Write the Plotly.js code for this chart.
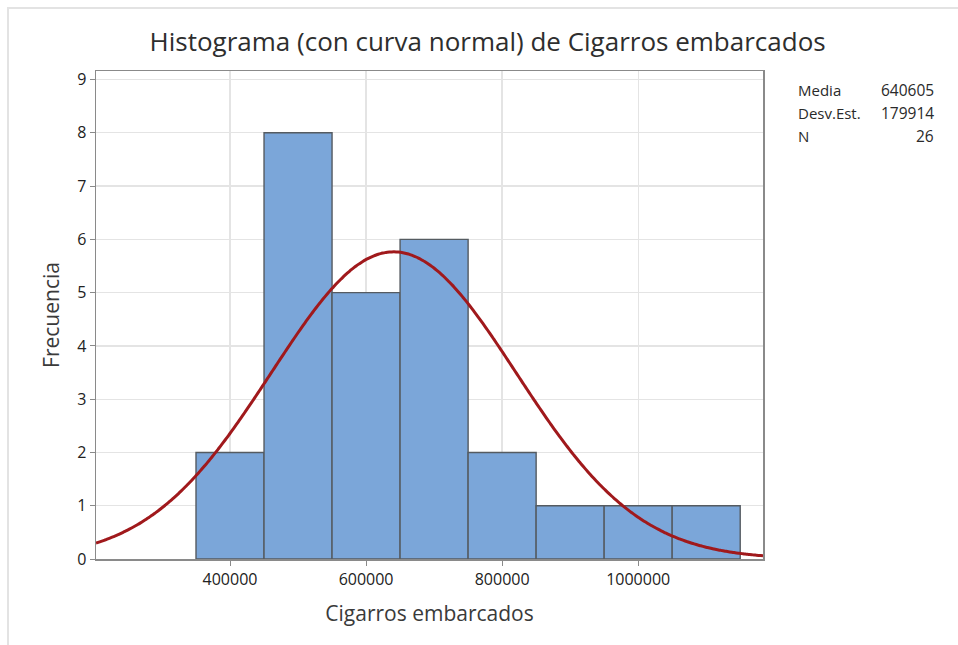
<!DOCTYPE html>
<html>
<head>
<meta charset="utf-8">
<script src="https://cdn.plot.ly/plotly-3.0.1.min.js"></script>
<style>
html,body{margin:0;padding:0;background:#fff;}
#frame{position:absolute;left:7px;top:7px;width:951px;height:638px;border-top:2px solid #e3e3e3;border-left:2px solid #e3e3e3;box-sizing:border-box;pointer-events:none;z-index:5;}
#chart{width:958px;height:645px;}
</style>
</head>
<body>
<div id="frame"></div>
<div id="chart"></div>
<script>
// Data
const binCenters = [400000, 500000, 600000, 700000, 800000, 900000, 1000000, 1100000];
const counts = [2, 8, 5, 6, 2, 1, 1, 1];
const binWidth = 100000;
const statLabels = ["Media", "Desv.Est.", "N"];
const statValues = [640605, 179914, 26];
const xTicks = [400000, 600000, 800000, 1000000];

const mean = statValues[0], sd = statValues[1], n = statValues[2];
const xMin = 203000, xMax = 1183500;

// Fitted normal curve defined by the displayed mean, sd and N
const curveX = [], curveY = [];
for (let i = 0; i <= 300; i++) {
  const x = xMin + (xMax - xMin) * i / 300;
  const z = (x - mean) / sd;
  curveX.push(x);
  curveY.push(n * binWidth / (sd * Math.sqrt(2 * Math.PI)) * Math.exp(-0.5 * z * z));
}

const font = "'Open Sans', 'Noto Sans', sans-serif";

const traces = [
  {
    type: 'bar', x: binCenters, y: counts, width: binCenters.map(() => binWidth),
    marker: {color: '#7BA6D9', line: {color: '#555b61', width: 1.4}},
    hoverinfo: 'x+y', showlegend: false
  },
  {
    type: 'scatter', mode: 'lines', x: curveX, y: curveY,
    line: {color: '#A0191C', width: 3, shape: 'spline'},
    hoverinfo: 'skip', showlegend: false
  }
];

const annotations = [];
statLabels.forEach((lab, i) => {
  annotations.push({xref: 'paper', yref: 'paper', x: 1.0495, xanchor: 'left',
    y: 1 - (19 + i * 23) / 488, yanchor: 'middle', text: lab, showarrow: false,
    font: {family: font, size: 15, color: '#2a2a2a'}});
  annotations.push({xref: 'paper', yref: 'paper', x: 1.2595, xanchor: 'right',
    y: 1 - (19 + i * 23) / 488, yanchor: 'middle', text: String(statValues[i]), showarrow: false,
    font: {family: font, size: 15.5, color: '#2a2a2a'}});
});

const layout = {
  width: 958, height: 645,
  margin: {l: 96, r: 195, t: 71, b: 86},
  paper_bgcolor: '#fff', plot_bgcolor: '#fff',
  bargap: 0,
  title: {text: 'Histograma (con curva normal) de Cigarros embarcados',
    font: {family: font, size: 26, color: '#2e2e2e'},
    xref: 'container', x: 0.509, xanchor: 'center', yref: 'container', y: 0.935, yanchor: 'middle'},
  xaxis: {
    range: [xMin, xMax], tickvals: xTicks, ticktext: xTicks.map(String),
    showgrid: true, gridcolor: '#e4e4e4', gridwidth: 1.3,
    showline: true, linecolor: '#8a8a8a', linewidth: 1.5, mirror: true,
    ticks: 'outside', ticklen: 5, tickcolor: '#8a8a8a',
    tickfont: {family: font, size: 16, color: '#222'},
    title: {text: 'Cigarros embarcados', font: {family: font, size: 21, color: '#3a3a3a'}, standoff: 17},
    zeroline: false, fixedrange: true
  },
  yaxis: {
    range: [0, 9.16], tickvals: [0,1,2,3,4,5,6,7,8,9],
    showgrid: true, gridcolor: '#e4e4e4', gridwidth: 1.3,
    showline: true, linecolor: '#8a8a8a', linewidth: 1.5, mirror: true,
    ticks: 'outside', ticklen: 5, tickcolor: '#8a8a8a',
    tickfont: {family: font, size: 16, color: '#222'},
    title: {text: 'Frecuencia', font: {family: font, size: 21, color: '#3a3a3a'}, standoff: 12},
    zeroline: false, fixedrange: true
  },
  annotations: annotations
};

Plotly.newPlot('chart', traces, layout, {displayModeBar: false, staticPlot: true});
</script>
</body>
</html>
